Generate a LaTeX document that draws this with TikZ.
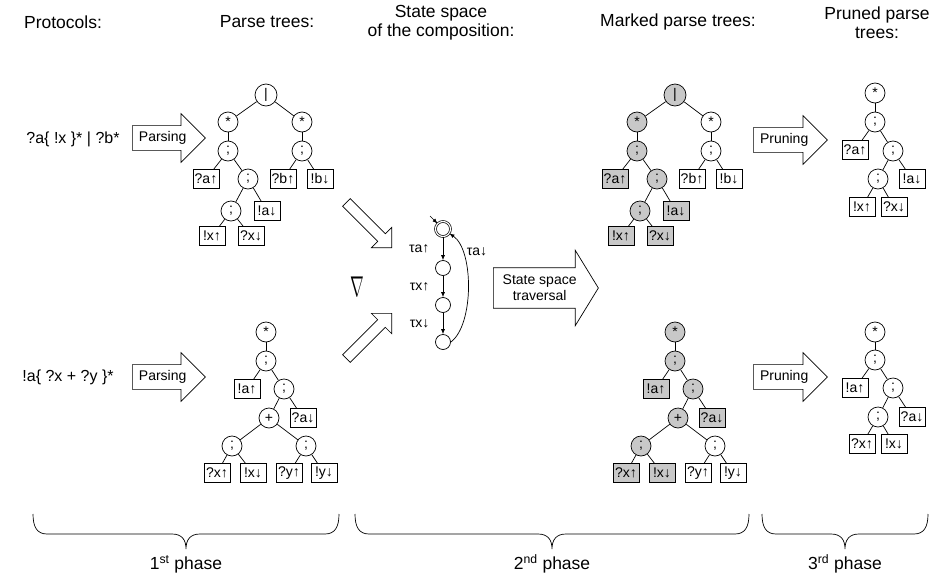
\documentclass[tikz,border=0pt]{standalone}
\usepackage{fontspec}
\setmainfont{Liberation Sans}
\usetikzlibrary{positioning,arrows.meta,shapes.arrows}
\definecolor{markgray}{RGB}{200,200,200}
\newcommand{\phasebrace}[3]{% left end, tip, right end
  \draw (#1,514) .. controls (#1,527) and (#1+4,534) .. (#1+14,534) -- (#2-14,534)
    .. controls (#2-4,534) and (#2,540) .. (#2,549)
    .. controls (#2,540) and (#2+4,534) .. (#2+14,534) -- (#3-14,534)
    .. controls (#3-4,534) and (#3,527) .. (#3,514);}

\begin{document}
\begin{tikzpicture}[x=1pt, y=-1pt, line width=0.7pt,
    every node/.style={font=\fontsize{14}{15}\selectfont},
    header/.style={font=\fontsize{17.5}{19}\selectfont, align=center},
    proto/.style={font=\fontsize{16}{18}\selectfont},
    op/.style={circle, draw, minimum size=20pt, inner sep=0pt},
    act/.style={draw, minimum width=26pt, minimum height=19pt, inner sep=1.5pt},
    marked/.style={fill=markgray},
    blockarrow/.style={single arrow, draw, single arrow head extend=12pt, inner xsep=4pt, inner ysep=5.5pt, font=\fontsize{14}{16}\selectfont},
    mergearrow/.style={single arrow, draw, single arrow head extend=9pt, inner sep=5pt, minimum height=64pt},
    state/.style={circle, draw, minimum size=15pt, inner sep=0pt},
    trans/.style={-{Latex[length=5pt,width=4pt]}}]
  \useasboundingbox (0,0) rectangle (930,576);

  % headers
  \node[header] (hdproto) at (63,22) {Protocols:};
  \node[header] (hdparse) at (267,22) {Parse trees:};
  \node[header] (hdstate) at (441,23) {State space\\of the composition:};
  \node[header] (hdmarked) at (678,22) {Marked parse trees:};
  \node[header] (hdpruned) at (877,23) {Pruned parse\\trees:};

  % 1st phase
  \node[proto] (proto1) at (73,139) {?a\{ !x \}* | ?b*};
  \node[proto] (proto2) at (68,377) {!a\{ ?x + ?y \}*};
  \node[blockarrow, minimum height=73pt, anchor=tail] (parse1) at (132,138) {Parsing};
  \node[blockarrow, minimum height=73pt, anchor=tail] (parse2) at (132,377) {Parsing};

  \node[op, minimum size=22pt] (t1r) at (266,95) {|};
  \node[op] (t1sa) at (228,122) {*};
  \node[op] (t1sb) at (302,122) {*};
  \node[op] (t1qa) at (228,151) {;};
  \node[op] (t1qb) at (302,151) {;};
  \node[act] (t1a) at (206,179) {?a↑};
  \node[op] (t1qc) at (248,179) {;};
  \node[act] (t1b) at (283,179) {?b↑};
  \node[act] (t1c) at (320,179) {!b↓};
  \node[op] (t1qd) at (231,211) {;};
  \node[act] (t1d) at (267,211) {!a↓};
  \node[act] (t1e) at (212,236) {!x↑};
  \node[act] (t1f) at (251,236) {?x↓};

  \node[op] (t2s) at (266,332) {*};
  \node[op] (t2q) at (266,361) {;};
  \node[act] (t2a) at (247,389) {!a↑};
  \node[op] (t2qb) at (284,389) {;};
  \node[op] (t2p) at (269,418) {+};
  \node[act] (t2b) at (303,418) {?a↓};
  \node[op] (t2qx) at (232,446) {;};
  \node[op] (t2qy) at (306,446) {;};
  \node[act] (t2c) at (217,473) {?x↑};
  \node[act] (t2d) at (253,473) {!x↓};
  \node[act] (t2e) at (289,473) {?y↑};
  \node[act] (t2f) at (324,473) {!y↓};

  % 2nd phase
  \node[mergearrow, rotate=-45, anchor=tip] (mergeA) at (392,248) {};
  \node[mergearrow, rotate=45, anchor=tip] (mergeB) at (392,313) {};
  \node[font=\fontsize{24.88}{25}\selectfont, xscale=0.66, yscale=1.15] (nabla) at (357,287) {$\nabla$};

  \node[state, double, double distance=1.2pt] (s0) at (443,229) {};
  \node[state] (s1) at (443,268) {};
  \node[state] (s2) at (443,305) {};
  \node[state] (s3) at (443,342) {};
  \coordinate (init) at (430,216);
  \draw[trans] (init) -- (s0.135);
  \draw[trans] (s0) -- node[left=10pt] {τa↑} (s1);
  \draw[trans] (s1) -- node[left=10pt] {τx↑} (s2);
  \draw[trans] (s2) -- node[left=10pt] {τx↓} (s3);
  \draw[trans] (s3.east) .. controls (474,325) and (474,250) .. node[pos=0.78, right=1pt] {τa↓} (s0.-35);

  \node[blockarrow, align=center, minimum height=105pt, single arrow head extend=17.5pt, single arrow tip angle=117, inner ysep=7pt, anchor=tail] (travel) at (493,288) {State space\\traversal};

  \node[op, marked, minimum size=22pt] (m1r) at (675,95) {|};
  \node[op, marked] (m1sa) at (637,122) {*};
  \node[op] (m1sb) at (711,122) {*};
  \node[op, marked] (m1qa) at (637,151) {;};
  \node[op] (m1qb) at (711,151) {;};
  \node[act, marked] (m1a) at (615,179) {?a↑};
  \node[op, marked] (m1qc) at (657,179) {;};
  \node[act] (m1b) at (692,179) {?b↑};
  \node[act] (m1c) at (729,179) {!b↓};
  \node[op, marked] (m1qd) at (640,211) {;};
  \node[act, marked] (m1d) at (676,211) {!a↓};
  \node[act, marked] (m1e) at (621,236) {!x↑};
  \node[act, marked] (m1f) at (660,236) {?x↓};

  \node[op, marked] (m2s) at (675,332) {*};
  \node[op, marked] (m2q) at (675,361) {;};
  \node[act, marked] (m2a) at (656,389) {!a↑};
  \node[op, marked] (m2qb) at (693,389) {;};
  \node[op, marked] (m2p) at (678,418) {+};
  \node[act, marked] (m2b) at (712,418) {?a↓};
  \node[op, marked] (m2qx) at (641,446) {;};
  \node[op] (m2qy) at (715,446) {;};
  \node[act, marked] (m2c) at (626,473) {?x↑};
  \node[act, marked] (m2d) at (662,473) {!x↓};
  \node[act] (m2e) at (698,473) {?y↑};
  \node[act] (m2f) at (733,473) {!y↓};

  % 3rd phase
  \node[blockarrow, minimum height=74pt, anchor=tail] (prune1) at (753,140) {Pruning};
  \node[blockarrow, minimum height=74pt, anchor=tail] (prune2) at (753,377) {Pruning};

  \node[op] (p1s) at (875,93) {*};
  \node[op] (p1q) at (875,122) {;};
  \node[act] (p1a) at (855,150) {?a↑};
  \node[op] (p1qb) at (893,151) {;};
  \node[op] (p1qc) at (878,179) {;};
  \node[act] (p1b) at (912,179) {!a↓};
  \node[act] (p1c) at (862,207) {!x↑};
  \node[act] (p1d) at (894,207) {?x↓};

  \node[op] (p2s) at (875,332) {*};
  \node[op] (p2q) at (875,360) {;};
  \node[act] (p2a) at (855,388) {!a↑};
  \node[op] (p2qb) at (893,388) {;};
  \node[op] (p2qc) at (878,417) {;};
  \node[act] (p2b) at (912,417) {?a↓};
  \node[act] (p2c) at (862,444) {?x↑};
  \node[act] (p2d) at (894,444) {!x↓};

  % tree edges
  \foreach \t in {t1,m1}
    \foreach \a/\b in {r/sa,r/sb,sa/qa,sb/qb,qa/a,qa/qc,qb/b,qb/c,qc/qd,qc/d,qd/e,qd/f}
      \draw (\t\a) -- (\t\b);
  \foreach \t in {t2,m2}
    \foreach \a/\b in {s/q,q/a,q/qb,qb/p,qb/b,p/qx,p/qy,qx/c,qx/d,qy/e,qy/f}
      \draw (\t\a) -- (\t\b);
  \foreach \t in {p1,p2}
    \foreach \a/\b in {s/q,q/a,q/qb,qb/qc,qb/b,qc/c,qc/d}
      \draw (\t\a) -- (\t\b);

  % phases
  \phasebrace{33}{186}{339}
  \phasebrace{355}{552}{749}
  \phasebrace{762}{845}{928}
  \node[header] (ph1) at (186,564) {1\textsuperscript{st} phase};
  \node[header] (ph2) at (552,564) {2\textsuperscript{nd} phase};
  \node[header] (ph3) at (845,564) {3\textsuperscript{rd} phase};
\end{tikzpicture}
\end{document}
